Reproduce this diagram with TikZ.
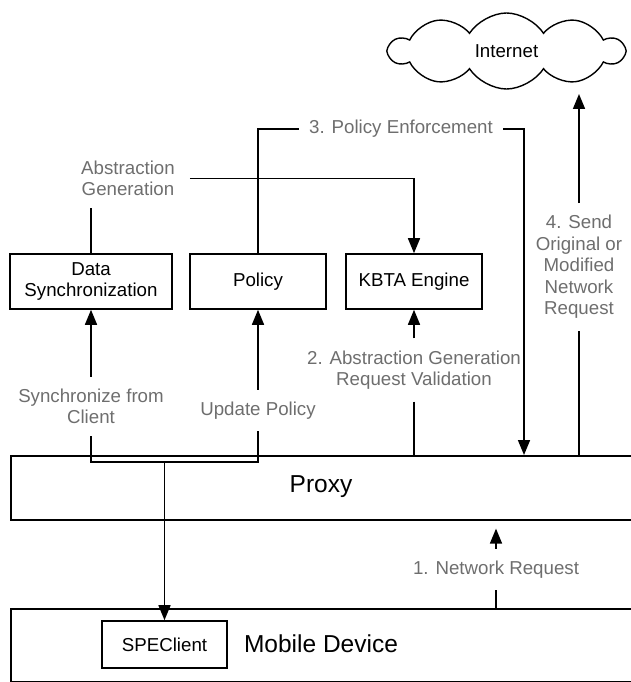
\documentclass[tikz,border=0pt]{standalone}
\usepackage{fontspec}
\setmainfont{Liberation Sans}
\usetikzlibrary{arrows.meta,shapes.symbols}
\definecolor{lblgray}{RGB}{110,110,110}
\begin{document}
\begin{tikzpicture}[x=1pt,y=-1pt,
  every node/.style={font=\fontsize{18.7}{21.5}\selectfont},
  box/.style={draw, line width=1.6pt, align=center, inner sep=0pt, minimum height=55pt},
  wide/.style={draw, line width=1.6pt, anchor=north west, inner sep=0pt, minimum width=660pt},
  lbl/.style={text=lblgray, align=center, inner xsep=10pt, inner ysep=12pt},
  big/.style={font=\fontsize{24.5}{28}\selectfont},
  conn/.style={line width=1.6pt},
  arr/.style={conn, -{Triangle[length=15pt,width=12pt]}},
]
\clip (0,0) rectangle (631,682);
% main boxes
\node[box, minimum width=162pt] (sync) at (91,281.5) {Data\\Synchronization};
\node[box, minimum width=136pt] (policy) at (258,281.5) {Policy};
\node[box, minimum width=136pt] (kbta) at (414,281.5) {KBTA Engine};
\node[wide, minimum height=64pt] (proxy) at (10,455) {};
\node[big] (proxytext) at (321,487) {Proxy};
\node[wide, minimum height=73pt] (mobile) at (10,608) {};
\node[big] (mobiletext) at (321,644) {Mobile Device};
\node[box, minimum width=125pt, minimum height=47pt] (spe) at (164.5,644.5) {SPEClient};
\node[cloud, draw, line width=1.4pt, cloud puffs=10, cloud puff arc=115, aspect=3,
      minimum width=234pt, minimum height=76pt, inner sep=0pt] (internet) at (506.5,51) {Internet};
% labels
\node[lbl, inner xsep=15pt] (abs) at (128,178.5) {Abstraction\\Generation};
\node[lbl] (pe) at (401,129) {3. Policy Enforcement};
\node[lbl] (send) at (579,267) {4. Send\\Original or\\Modified\\Network\\Request};
\node[lbl] (kl) at (414,370) {2. Abstraction Generation\\Request Validation};
\node[lbl] (sl) at (91,406.5) {Synchronize from\\Client};
\node[lbl] (ul) at (258,410.5) {Update Policy};
\node[lbl] (nl) at (496,569.5) {1. Network Request};
% coordinates
\coordinate (jn) at (spe.north |- 0,462);
\coordinate (enf) at (524,455);
\coordinate (cloudtip) at (579,94);
% connectors
\draw[arr] (sl.north) -- (sync.south);
\draw[arr] (ul.north) -- (policy.south);
\draw[arr] (kl.north) -- (kbta.south);
\draw[conn] (sl.south) -- (sl.south |- jn) -- (ul.south |- jn) -- (ul.south);
\draw[arr] (jn) -- (spe.north);
\draw[conn] (kl.south) -- (kl.south |- proxy.north);
\draw[conn] (sync.north) -- (sync.north |- abs.south);
\draw[arr] (abs.east) -| (kbta.north);
\draw[conn] (policy.north) |- (pe.west);
\draw[arr] (pe.east) -| (enf);
\draw[conn] (send.south |- proxy.north) -- (send.south);
\draw[arr] (send.north) -- (cloudtip);
\draw[arr, shorten >=8pt] (nl.north) -- (nl.north |- proxy.south);
\draw[conn] (nl.south |- mobile.north) -- (nl.south);
\end{tikzpicture}
\end{document}
